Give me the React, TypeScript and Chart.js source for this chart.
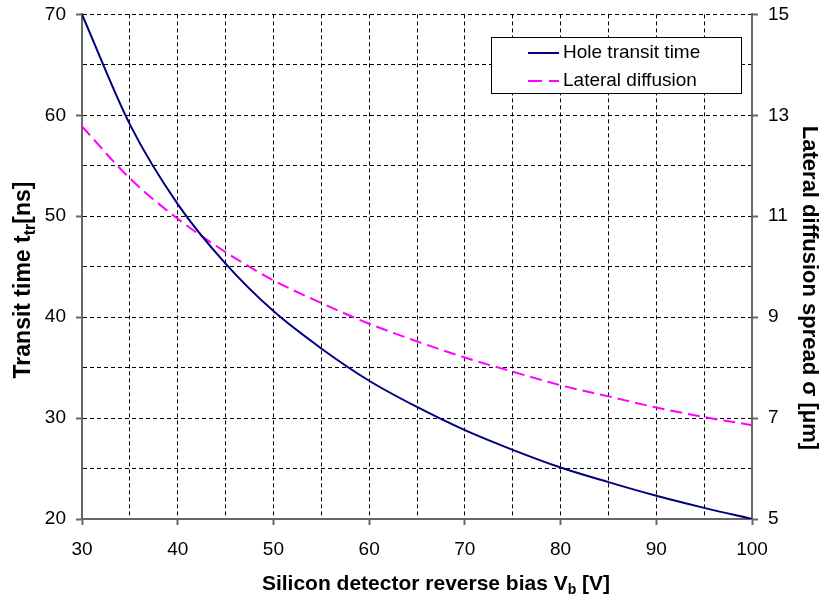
import React, { useEffect, useRef } from "react";
import { Chart, registerables } from "chart.js";

Chart.register(...registerables);

const voltage = [30, 35, 40, 45, 50, 55, 60, 65, 70, 75, 80, 85, 90, 95, 100];
const holeTransit = [70, 59.1, 51.2, 45.3, 40.6, 36.9, 33.7, 31.1, 28.8, 26.85, 25.1, 23.65, 22.3, 21.1, 20.0];
const lateralDiffusion = [12.78, 11.75, 10.95, 10.29, 9.73, 9.28, 8.87, 8.52, 8.2, 7.92, 7.65, 7.43, 7.21, 7.02, 6.86];

const seriesNames = ["Hole transit time", "Lateral diffusion"];
const xTitle = [{ t: "Silicon detector reverse bias V" }, { t: "b", sub: true }, { t: " [V]" }];
const yLeftTitle = [{ t: "Transit time t" }, { t: "tr", sub: true }, { t: "[ns]" }];
const yRightTitle = [{ t: "Lateral diffusion spread \u03C3 [\u03BCm]" }];

const FONT = "'Liberation Sans', Arial, sans-serif";
const AXIS_GRAY = "#666666";
const NAVY = "#000080";
const MAGENTA = "#FF00FF";
const SHIFT = 7;

type Part = { t: string; sub?: boolean };

function drawRich(ctx: CanvasRenderingContext2D, parts: Part[], cx: number, cy: number, rot: number, size: number) {
  ctx.save();
  ctx.translate(cx, cy);
  ctx.rotate(rot);
  const mainFont = `bold ${size}px ${FONT}`;
  const subFont = `bold ${Math.round(size * 0.68)}px ${FONT}`;
  const widths = parts.map((p) => {
    ctx.font = p.sub ? subFont : mainFont;
    return ctx.measureText(p.t).width;
  });
  const total = widths.reduce((a, b) => a + b, 0);
  let x = -total / 2;
  ctx.textBaseline = "middle";
  ctx.textAlign = "left";
  ctx.fillStyle = "#000";
  parts.forEach((p, i) => {
    ctx.font = p.sub ? subFont : mainFont;
    ctx.fillText(p.t, x, p.sub ? size * 0.3 : 0);
    x += widths[i];
  });
  ctx.restore();
}

const overlayPlugin = {
  id: "overlay",
  afterDraw(chart: any) {
    const ctx: CanvasRenderingContext2D = chart.ctx;
    ctx.save();
    ctx.translate(0, SHIFT);
    drawRich(ctx, xTitle, 436, 584, 0, 21);
    drawRich(ctx, yLeftTitle, 24, 280, -Math.PI / 2, 23);
    drawRich(ctx, yRightTitle, 809, 288, Math.PI / 2, 22);

    // legend box
    const bx = 491, by = 37, bw = 250, bh = 56;
    ctx.fillStyle = "#fff";
    ctx.fillRect(bx, by, bw, bh);
    ctx.strokeStyle = "#000";
    ctx.lineWidth = 1;
    ctx.strokeRect(bx + 0.5, by + 0.5, bw, bh);
    const rows = [
      { y: 53, color: NAVY, dash: [] as number[] },
      { y: 81, color: MAGENTA, dash: [14, 7] },
    ];
    rows.forEach((r, i) => {
      ctx.beginPath();
      ctx.setLineDash(r.dash);
      ctx.strokeStyle = r.color;
      ctx.lineWidth = 2;
      ctx.moveTo(528, r.y);
      ctx.lineTo(559, r.y);
      ctx.stroke();
      ctx.setLineDash([]);
      ctx.fillStyle = "#000";
      ctx.font = `19px ${FONT}`;
      ctx.textBaseline = "middle";
      ctx.textAlign = "left";
      ctx.fillText(seriesNames[i], 563, r.y);
    });
    ctx.restore();
  },
};

export default function App() {
  const ref = useRef<HTMLCanvasElement | null>(null);
  useEffect(() => {
    if (!ref.current) return;
    const tickColorMajor = (c: any) =>
      c.tick && Math.abs(c.tick.value % 10) < 1e-9 ? AXIS_GRAY : "rgba(0,0,0,0)";
    const chart = new Chart(ref.current, {
      type: "line",
      data: {
        datasets: [
          {
            label: seriesNames[0],
            data: voltage.map((v, i) => ({ x: v, y: holeTransit[i] })),
            borderColor: NAVY,
            borderWidth: 2,
            pointRadius: 0,
            cubicInterpolationMode: "monotone",
            yAxisID: "y",
            fill: false,
          },
          {
            label: seriesNames[1],
            data: voltage.map((v, i) => ({ x: v, y: lateralDiffusion[i] })),
            borderColor: MAGENTA,
            borderWidth: 2,
            borderDash: [12, 6],
            pointRadius: 0,
            cubicInterpolationMode: "monotone",
            yAxisID: "y2",
            fill: false,
          },
        ],
      },
      options: {
        responsive: false,
        animation: false,
        devicePixelRatio: 1,
        layout: { padding: { top: 0, left: 0, right: 0, bottom: 0 } },
        plugins: { legend: { display: false }, tooltip: { enabled: false } },
        scales: {
          x: {
            type: "linear",
            min: 30,
            max: 100,
            afterFit: (s: any) => { s.height = 77; },
            ticks: {
              stepSize: 5,
              autoSkip: false,
              maxRotation: 0,
              padding: 13,
              color: "#000",
              font: { family: FONT, size: 19 },
              callback: (v: any) => (Number(v) % 10 === 0 ? String(v) : ""),
            },
            grid: {
              color: (c: any) => (c.tick && c.tick.value === 30 ? "rgba(0,0,0,0)" : "#000"),
              lineWidth: 1,
              drawTicks: true,
              tickLength: 6,
              tickColor: tickColorMajor,
              tickWidth: 2,
              tickBorderDash: [],
            },
            border: { display: true, color: AXIS_GRAY, width: 2, dash: [4, 3] },
          },
          y: {
            type: "linear",
            position: "left",
            min: 20,
            max: 70,
            afterFit: (s: any) => { s.width = 82; },
            ticks: {
              stepSize: 5,
              autoSkip: false,
              padding: 10,
              color: "#000",
              font: { family: FONT, size: 19 },
              callback: (v: any) => (Number(v) % 10 === 0 ? String(v) : ""),
            },
            grid: {
              color: (c: any) => (c.tick && c.tick.value === 20 ? "rgba(0,0,0,0)" : "#000"),
              lineWidth: 1,
              drawTicks: true,
              tickLength: 6,
              tickColor: tickColorMajor,
              tickWidth: 2,
              tickBorderDash: [],
            },
            border: { display: true, color: AXIS_GRAY, width: 2, dash: [4, 3] },
          },
          y2: {
            type: "linear",
            position: "right",
            min: 5,
            max: 15,
            afterFit: (s: any) => { s.width = 68; },
            ticks: {
              stepSize: 2,
              autoSkip: false,
              padding: 10,
              color: "#000",
              font: { family: FONT, size: 19 },
            },
            grid: {
              drawOnChartArea: false,
              drawTicks: true,
              tickLength: 6,
              tickColor: AXIS_GRAY,
              tickWidth: 2,
            },
            border: { display: true, color: AXIS_GRAY, width: 2 },
          },
        },
      },
      plugins: [overlayPlugin],
    } as any);
    return () => chart.destroy();
  }, []);
  return (
    <div style={{ position: "absolute", left: 0, top: 0, width: 820, height: 596, overflow: "hidden", background: "#fff" }}>
      <canvas ref={ref} width={820} height={596 + SHIFT} style={{ position: "absolute", left: 0, top: -SHIFT }} />
    </div>
  );
}
